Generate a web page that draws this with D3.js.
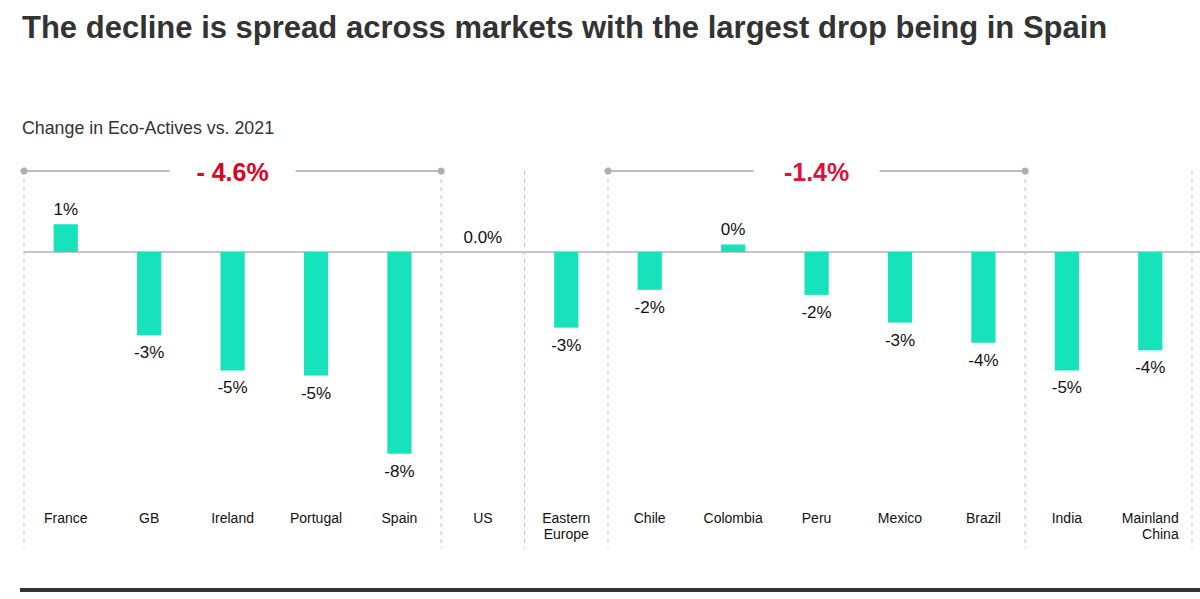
<!DOCTYPE html>
<html>
<head>
<meta charset="utf-8">
<script src="https://cdn.jsdelivr.net/npm/d3@7"></script>
<style>
  html, body { margin: 0; padding: 0; background: #fff; }
  svg { display: block; font-family: "Liberation Sans", Arial, sans-serif; }
</style>
</head>
<body>
<svg id="chart" width="1200" height="599"></svg>
<script>
const categories = ["France", "GB", "Ireland", "Portugal", "Spain", "US", "Eastern Europe", "Chile", "Colombia", "Peru", "Mexico", "Brazil", "India", "Mainland China"];
const values = [1.1, -3.3, -4.7, -4.9, -8.0, 0.0, -3.0, -1.5, 0.3, -1.7, -2.8, -3.6, -4.7, -3.9];
const valueLabels = ["1%", "-3%", "-5%", "-5%", "-8%", "0.0%", "-3%", "-2%", "0%", "-2%", "-3%", "-4%", "-5%", "-4%"];
const groupLabels = ["- 4.6%", "-1.4%"];
const groupStart = [0, 7];
const groupEnd = [5, 12];
const separatorIndex = [0, 5, 6, 7, 12, 14];

const title = "The decline is spread across markets with the largest drop being in Spain";
const subtitle = "Change in Eco-Actives vs. 2021";

const svg = d3.select("#chart");
const W = 1200;

const x = d3.scaleBand().domain(categories).range([24, 1192]).paddingInner(0.71).paddingOuter(0.355);
const y = d3.scaleLinear().domain([-8, 0]).range([453.7, 252]);
const boundary = k => x.range()[0] + k * x.step();

// Title & subtitle
svg.append("text").attr("x", 22).attr("y", 38)
  .attr("font-size", 31).attr("font-weight", "bold").attr("fill", "#333")
  .text(title);
svg.append("text").attr("x", 22).attr("y", 134)
  .attr("font-size", 17.8).attr("fill", "#333")
  .text(subtitle);

const bracketY = 171;
const sepTop = 171, sepBottom = 548;

// dashed separators
svg.append("g").selectAll("line").data(separatorIndex).join("line")
  .attr("x1", d => boundary(d)).attr("x2", d => boundary(d))
  .attr("y1", sepTop).attr("y2", sepBottom)
  .attr("stroke", "#bdbdbd").attr("stroke-width", 1).attr("stroke-dasharray", "4,4");

// zero line
svg.append("line").attr("x1", 24).attr("x2", W).attr("y1", y(0)).attr("y2", y(0))
  .attr("stroke", "#c6c6c6").attr("stroke-width", 2);

// group brackets
const groups = groupLabels.map((l, i) => ({ label: l, a: boundary(groupStart[i]), b: boundary(groupEnd[i]) }));
const gg = svg.append("g").selectAll("g").data(groups).join("g");
gg.append("line").attr("x1", d => d.a).attr("x2", d => (d.a + d.b) / 2 - 63)
  .attr("y1", bracketY).attr("y2", bracketY).attr("stroke", "#bdbdbd").attr("stroke-width", 2);
gg.append("line").attr("x1", d => (d.a + d.b) / 2 + 63).attr("x2", d => d.b)
  .attr("y1", bracketY).attr("y2", bracketY).attr("stroke", "#bdbdbd").attr("stroke-width", 2);
gg.append("circle").attr("cx", d => d.a).attr("cy", bracketY).attr("r", 3.5).attr("fill", "#b0b0b0");
gg.append("circle").attr("cx", d => d.b).attr("cy", bracketY).attr("r", 3.5).attr("fill", "#b0b0b0");
gg.append("text").attr("x", d => (d.a + d.b) / 2).attr("y", 181)
  .attr("text-anchor", "middle").attr("font-size", 25).attr("font-weight", "bold")
  .attr("fill", (d, i) => i === 0 ? "#e2001a" : "#e0103c")
  .text(d => d.label);

// bars
const data = categories.map((c, i) => ({ c, v: values[i], l: valueLabels[i] }));
svg.append("g").selectAll("rect").data(data.filter(d => d.v !== 0)).join("rect")
  .attr("x", d => x(d.c)).attr("width", x.bandwidth())
  .attr("y", d => Math.min(y(d.v), y(0))).attr("height", d => Math.abs(y(d.v) - y(0)))
  .attr("fill", "#16e2bc");

// value labels
svg.append("g").selectAll("text").data(data).join("text")
  .attr("x", d => x(d.c) + x.bandwidth() / 2)
  .attr("y", d => d.v >= 0 ? y(d.v) - 9 : y(d.v) + 23)
  .attr("text-anchor", "middle").attr("font-size", 17).attr("fill", "#111")
  .text(d => d.l);

// category labels
const cl = svg.append("g").selectAll("text").data(data).join("text")
  .attr("x", d => x(d.c) + x.bandwidth() / 2)
  .attr("y", 523)
  .attr("text-anchor", "middle").attr("font-size", 14).attr("fill", "#111");
cl.each(function(d) {
  const words = d.c.split(" ");
  const t = d3.select(this);
  const cx = x(d.c) + x.bandwidth() / 2;
  if (words.length === 1) {
    t.text(d.c);
  } else if (d.c === "Mainland China") {
    const t1 = t.append("tspan").attr("x", cx).attr("dy", 0).text(words[0]);
    const w = t1.node().getComputedTextLength();
    t.append("tspan").attr("x", cx + w / 2).attr("dy", 16).attr("text-anchor", "end").text(words[1]);
  } else {
    t.append("tspan").attr("x", cx).attr("dy", 0).text(words[0]);
    t.append("tspan").attr("x", cx).attr("dy", 16).text(words[1]);
  }
});

// bottom rule
svg.append("line").attr("x1", 20).attr("x2", W).attr("y1", 590).attr("y2", 590)
  .attr("stroke", "#333").attr("stroke-width", 4);
</script>
</body>
</html>
